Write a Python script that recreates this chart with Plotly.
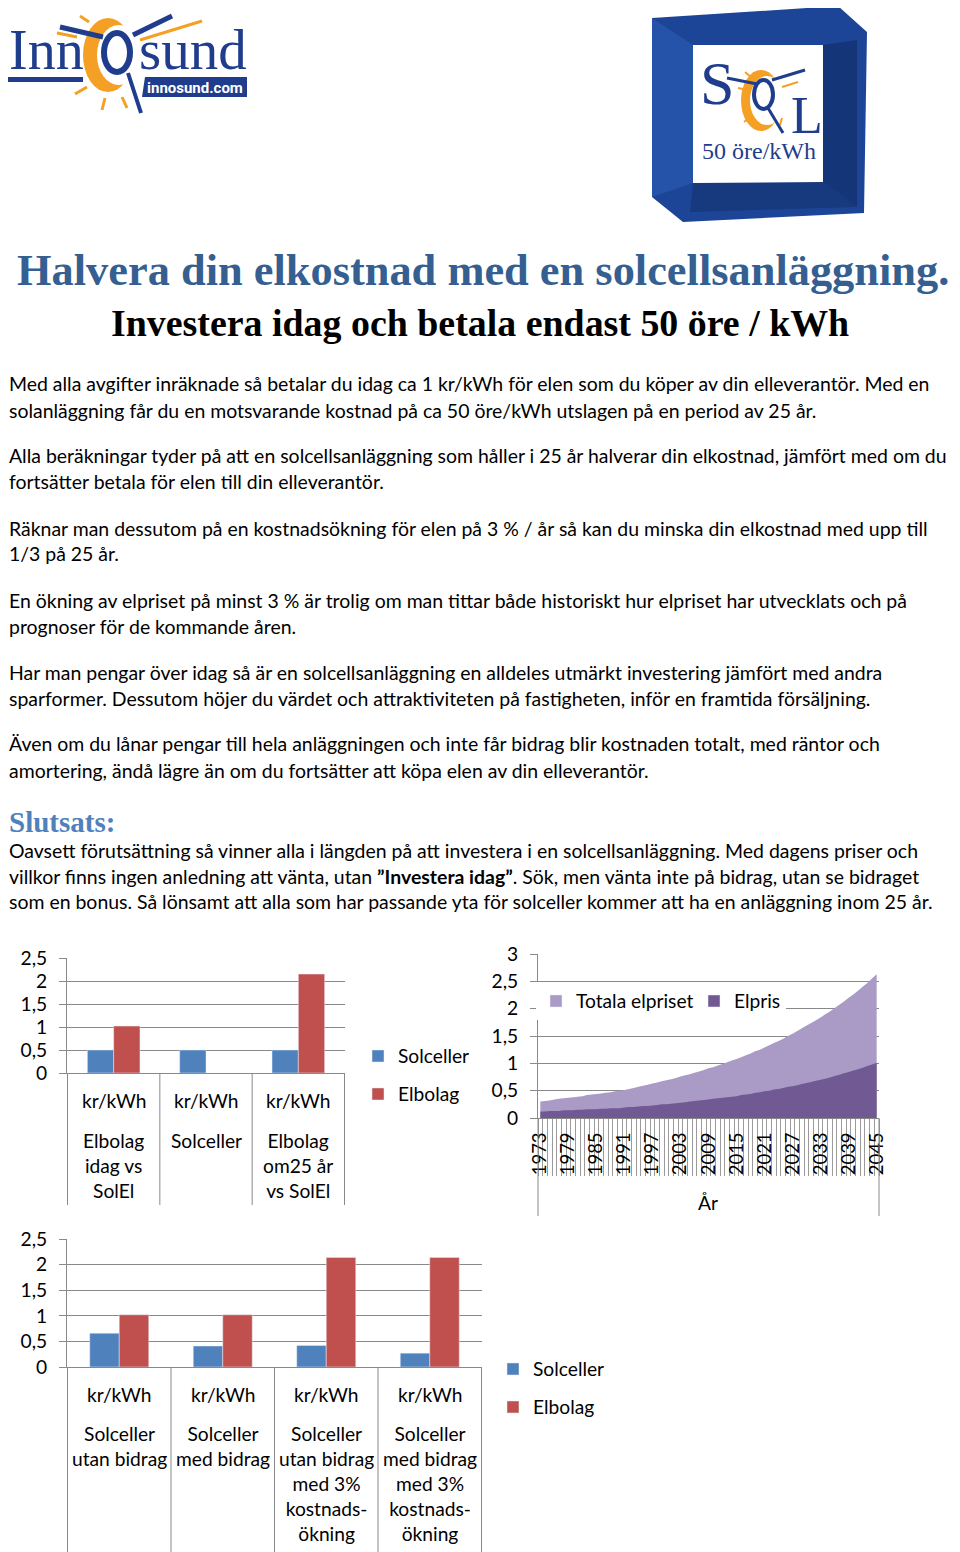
import plotly.graph_objects as go

# The page body has an 8px default margin, so the figure is drawn 8px smaller
# and all reference pixel positions are shifted by that offset.
W, H = 960, 1552
OFF = 8
FW, FH = W - OFF, H - OFF

# ---------------- data ----------------
chart1_categories = ["Elbolag<br>idag vs<br>SolEl", "Solceller", "Elbolag<br>om25 år<br>vs SolEl"]
chart1_unit = ["kr/kWh", "kr/kWh", "kr/kWh"]
chart1_solceller = [0.5, 0.5, 0.5]
chart1_elbolag = [1.02, None, 2.15]

chart3_categories = ["Solceller<br>utan bidrag", "Solceller<br>med bidrag",
                     "Solceller<br>utan bidrag<br>med 3%<br>kostnads-<br>ökning",
                     "Solceller<br>med bidrag<br>med 3%<br>kostnads-<br>ökning"]
chart3_unit = ["kr/kWh", "kr/kWh", "kr/kWh", "kr/kWh"]
chart3_solceller = [0.66, 0.41, 0.42, 0.27]
chart3_elbolag = [1.02, 1.02, 2.14, 2.14]

years = list(range(1973, 2046))
totala_elpriset = [0.30, 0.31, 0.32, 0.34, 0.35, 0.36, 0.37, 0.38, 0.39, 0.40,
                   0.42, 0.43, 0.44, 0.45, 0.46, 0.47, 0.49, 0.50, 0.51, 0.53,
                   0.55, 0.57, 0.59, 0.61, 0.63, 0.65, 0.67, 0.69, 0.71, 0.73,
                   0.76, 0.78, 0.80, 0.83, 0.85, 0.88, 0.91, 0.93, 0.96, 0.99,
                   1.02, 1.05, 1.08, 1.11, 1.15, 1.18, 1.22, 1.25, 1.29, 1.33,
                   1.37, 1.41, 1.45, 1.50, 1.54, 1.59, 1.64, 1.69, 1.74, 1.79,
                   1.84, 1.90, 1.95, 2.01, 2.07, 2.13, 2.20, 2.26, 2.33, 2.40,
                   2.47, 2.55, 2.63]
elpris = [0.12, 0.12, 0.13, 0.13, 0.13, 0.14, 0.14, 0.14, 0.15, 0.15,
          0.16, 0.16, 0.16, 0.17, 0.17, 0.18, 0.18, 0.18, 0.19,
          0.20, 0.20, 0.21, 0.22, 0.22, 0.23, 0.24, 0.25, 0.25, 0.26,
          0.27, 0.28, 0.29, 0.30, 0.31, 0.32, 0.33, 0.34, 0.35, 0.36,
          0.37, 0.38, 0.39, 0.40, 0.42, 0.43, 0.44, 0.46, 0.47, 0.49,
          0.50, 0.52, 0.53, 0.55, 0.57, 0.58, 0.60, 0.62, 0.64, 0.66,
          0.68, 0.70, 0.72, 0.74, 0.77, 0.79, 0.82, 0.84, 0.87, 0.89,
          0.92, 0.95, 0.98, 1.01]
year_ticks = [1973, 1979, 1985, 1991, 1997, 2003, 2009, 2015, 2021, 2027, 2033, 2039, 2045]
value_ticks_25 = [0, 0.5, 1, 1.5, 2, 2.5]
value_ticks_3 = [0, 0.5, 1, 1.5, 2, 2.5, 3]

body_paragraphs = [
    ["Med alla avgifter inräknade så betalar du idag ca 1 kr/kWh för elen som du köper av din elleverantör. Med en",
     "solanläggning får du en motsvarande kostnad på ca 50 öre/kWh utslagen på en period av 25 år."],
    ["Alla beräkningar tyder på att en solcellsanläggning som håller i 25 år halverar din elkostnad, jämfört med om du",
     "fortsätter betala för elen till din elleverantör."],
    ["Räknar man dessutom på en kostnadsökning för elen på 3 % / år så kan du minska din elkostnad med upp till",
     "1/3 på 25 år."],
    ["En ökning av elpriset på minst 3 % är trolig om man tittar både historiskt hur elpriset har utvecklats och på",
     "prognoser för de kommande åren."],
    ["Har man pengar över idag så är en solcellsanläggning en alldeles utmärkt investering jämfört med andra",
     "sparformer. Dessutom höjer du värdet och attraktiviteten på fastigheten, inför en framtida försäljning."],
    ["Även om du lånar pengar till hela anläggningen och inte får bidrag blir kostnaden totalt, med räntor och",
     "amortering, ändå lägre än om du fortsätter att köpa elen av din elleverantör."],
]
slutsats_lines = [
    "Oavsett förutsättning så vinner alla i längden på att investera i en solcellsanläggning. Med dagens priser och",
    "villkor finns ingen anledning att vänta, utan <b>”Investera idag”</b>. Sök, men vänta inte på bidrag, utan se bidraget",
    "som en bonus. Så lönsamt att alla som har passande yta för solceller kommer att ha en anläggning inom 25 år.",
]

# ---------------- style ----------------
BLUE = "#4f81bd"
RED = "#c0504d"
LIGHT_PURPLE = "#a99bc6"
DARK_PURPLE = "#715a94"
GRID = "#898989"
SANS = "Lato"
SERIF = "Liberation Serif"
LOGO_BLUE = "#1f3d8c"
ORANGE = "#f4a024"
TXT = 19.2      # chart text
BODY = 19.45    # body text


def px(x):
    return (x - OFF) / FW


def py(y):
    return 1 - (y - OFF) / FH


fig = go.Figure()

# ---- chart 1 ----
fig.add_trace(go.Bar(x=chart1_categories, y=chart1_solceller, name="Solceller", marker_color=BLUE,
                     xaxis="x", yaxis="y", legend="legend"))
fig.add_trace(go.Bar(x=chart1_categories, y=chart1_elbolag, name="Elbolag", marker_color=RED,
                     xaxis="x", yaxis="y", legend="legend2"))
# ---- chart 2 ----
fig.add_trace(go.Scatter(x=years, y=totala_elpriset, name="Totala elpriset", mode="none", fill="tozeroy",
                         fillcolor=LIGHT_PURPLE, xaxis="x2", yaxis="y2", showlegend=False))
fig.add_trace(go.Scatter(x=years, y=elpris, name="Elpris", mode="none", fill="tozeroy",
                         fillcolor=DARK_PURPLE, xaxis="x2", yaxis="y2", showlegend=False))
fig.add_trace(go.Bar(x=[None], y=[None], name="Totala elpriset", marker_color=LIGHT_PURPLE,
                     xaxis="x2", yaxis="y2", legend="legend3"))
fig.add_trace(go.Bar(x=[None], y=[None], name="Elpris", marker_color=DARK_PURPLE,
                     xaxis="x2", yaxis="y2", legend="legend4"))
# ---- chart 3 ----
fig.add_trace(go.Bar(x=chart3_categories, y=chart3_solceller, name="Solceller", marker_color=BLUE,
                     xaxis="x3", yaxis="y3", legend="legend5"))
fig.add_trace(go.Bar(x=chart3_categories, y=chart3_elbolag, name="Elbolag", marker_color=RED,
                     xaxis="x3", yaxis="y3", legend="legend6"))

tickfont = dict(family=SANS, size=TXT, color="black")


def yax(domain, rng, vals, anchor):
    return dict(domain=domain, range=rng, tickvals=vals, tickmode="array", showgrid=True, gridcolor=GRID,
                gridwidth=1, showline=True, linecolor=GRID, linewidth=1, ticks="outside", ticklen=7,
                tickcolor=GRID, tickfont=tickfont, zeroline=False, anchor=anchor, fixedrange=True,
                ticklabelstandoff=8, automargin=False)


def xcat(domain, anchor):
    return dict(domain=domain, type="category", showline=True, linecolor=GRID, linewidth=1,
                showticklabels=False, ticks="", showgrid=False, anchor=anchor, fixedrange=True,
                automargin=False)


def leg(x, y, bg="rgba(0,0,0,0)"):
    return dict(x=px(x), y=py(y), xanchor="left", yanchor="middle", orientation="v",
                font=dict(family=SANS, size=TXT, color="black"), bgcolor=bg)


annotations = []
shapes = []

c1_x = [67, 345]
c1_y = [958, 1073]
c3_x = [67, 482]
c3_y = [1239, 1367]
c2_x = [538, 879]
c2_y = [954, 1118]

layout = dict(
    width=FW, height=FH, margin=dict(l=0, r=0, t=0, b=0, autoexpand=False),
    paper_bgcolor="white", plot_bgcolor="rgba(0,0,0,0)",
    separators=", ", barmode="group", bargap=0.43, bargroupgap=0,
    font=dict(family=SANS, size=TXT, color="black"),
    xaxis=xcat([px(c1_x[0]), px(c1_x[1])], "y"),
    yaxis=yax([py(c1_y[1]), py(c1_y[0])], [0, 2.5], value_ticks_25, "x"),
    xaxis3=xcat([px(c3_x[0]), px(c3_x[1])], "y3"),
    yaxis3=yax([py(c3_y[1]), py(c3_y[0])], [0, 2.5], value_ticks_25, "x3"),
    xaxis2=dict(domain=[px(c2_x[0]), px(c2_x[1])], range=[years[0] - 0.5, years[-1] + 0.5], anchor="y2",
                tickmode="linear", tick0=year_ticks[0], dtick=year_ticks[1] - year_ticks[0],
                tickangle=-90, ticks="", showline=True, linecolor=GRID, linewidth=1, showgrid=False,
                zeroline=False, tickfont=dict(family=SANS, size=18.5, color="black"), fixedrange=True,
                automargin=False, ticklabelstandoff=6,
                minor=dict(ticks="outside", ticklen=57, tickcolor="#9b9b9b", tickwidth=1,
                           tickmode="linear", tick0=years[0] - 0.5, dtick=1, showgrid=False)),
    yaxis2=yax([py(c2_y[1]), py(c2_y[0])], [0, 3], value_ticks_3, "x2"),
    legend=leg(358, 1056),
    legend2=leg(358, 1094),
    legend3=leg(536, 1001, "white"),
    legend4=leg(694, 1001, "white"),
    legend5=leg(493, 1369),
    legend6=leg(493, 1407),
)


def cat_labels(cats, units, xref, y_unit, y_top, y_bottom_axis, y_sep_end):
    for i, c in enumerate(cats):
        annotations.append(dict(x=c, y=py(y_unit), xref=xref, yref="paper", text=units[i], showarrow=False,
                                xanchor="center", yanchor="middle", font=dict(family=SANS, size=TXT)))
        annotations.append(dict(x=c, y=py(y_top), xref=xref, yref="paper", text=c, showarrow=False,
                                xanchor="center", yanchor="top", borderpad=0,
                                font=dict(family=SANS, size=TXT)))
    for i in range(len(cats) + 1):
        shapes.append(dict(type="line", xref=xref, yref="paper", x0=i - 0.5, x1=i - 0.5,
                           y0=py(y_bottom_axis), y1=py(y_sep_end), line=dict(color=GRID, width=1)))


cat_labels(chart1_categories, chart1_unit, "x", 1100, 1128, c1_y[1], 1205)
cat_labels(chart3_categories, chart3_unit, "x3", 1394, 1421, c3_y[1], 1552)

# chart 2 extra frame lines and axis title
for xx in c2_x:
    shapes.append(dict(type="line", xref="paper", yref="paper", x0=px(xx), x1=px(xx), y0=py(c2_y[1]),
                       y1=py(1216), line=dict(color=GRID, width=1)))
annotations.append(dict(x=px(708), y=py(1202), xref="paper", yref="paper", text="År", showarrow=False,
                        xanchor="center", yanchor="middle", font=dict(family=SANS, size=TXT)))

# ---------------- text ----------------
annotations.append(dict(x=px(483), y=py(270), xref="paper", yref="paper", showarrow=False, xanchor="center",
                        yanchor="middle", text="<b>Halvera din elkostnad med en solcellsanläggning.</b>",
                        borderpad=0, font=dict(family=SERIF, size=44.4, color="#365f91")))
annotations.append(dict(x=px(480), y=py(323), xref="paper", yref="paper", showarrow=False, xanchor="center",
                        yanchor="middle", text="<b>Investera idag och betala endast 50 öre / kWh</b>",
                        font=dict(family=SERIF, size=37.9, color="black")))

LEFT = 8
y0 = 384
for p, para in enumerate(body_paragraphs):
    for l, line in enumerate(para):
        annotations.append(dict(x=px(LEFT), y=py(y0 + p * 72 + l * 26), xref="paper", yref="paper",
                                showarrow=False, xanchor="left", yanchor="middle", text=line, borderpad=0,
                                font=dict(family=SANS, size=BODY, color="black")))
annotations.append(dict(x=px(LEFT), y=py(822), xref="paper", yref="paper", showarrow=False, xanchor="left",
                        yanchor="middle", text="<b>Slutsats:</b>", borderpad=0,
                        font=dict(family=SERIF, size=29, color=BLUE)))
for l, line in enumerate(slutsats_lines):
    annotations.append(dict(x=px(LEFT), y=py(850 + l * 26), xref="paper", yref="paper", showarrow=False,
                            xanchor="left", yanchor="middle", text=line, borderpad=0,
                            font=dict(family=SANS, size=BODY, color="black")))


# ---------------- logos ----------------
def path(pts):
    return "M " + " L ".join(f"{px(a):.5f},{py(b):.5f}" for a, b in pts) + " Z"


def poly(pts, color):
    shapes.append(dict(type="path", xref="paper", yref="paper", path=path(pts), fillcolor=color,
                       line=dict(width=0)))


def ell(x0, y0_, x1, y1, fill=None, line=None, lw=0):
    shapes.append(dict(type="circle", xref="paper", yref="paper", x0=px(x0), x1=px(x1), y0=py(y1),
                       y1=py(y0_), fillcolor=fill if fill else "rgba(0,0,0,0)",
                       line=dict(color=line if line else "rgba(0,0,0,0)", width=lw)))


def seg(x0, y0_, x1, y1, color, w):
    shapes.append(dict(type="line", xref="paper", yref="paper", x0=px(x0), x1=px(x1), y0=py(y0_),
                       y1=py(y1), line=dict(color=color, width=w)))


def txt(x, y, s, size, color, family=SERIF, anchor="center"):
    annotations.append(dict(x=px(x), y=py(y), xref="paper", yref="paper", text=s, showarrow=False,
                            xanchor=anchor, yanchor="middle", borderpad=0,
                            font=dict(family=family, size=size, color=color)))


# InnOsund logo
for a in [(80, 16, 89, 22), (57, 33, 77, 37), (75, 94, 87, 87), (102, 110, 105, 98), (122, 97, 127, 108),
          (140, 40, 202, 21)]:
    seg(*a, ORANGE, 3)
ell(83, 18, 133, 92, fill=ORANGE)
ell(97, 25, 141, 85, fill="white")
ell(104, 33, 130, 72, line=LOGO_BLUE, lw=6)
seg(60, 27, 103, 37, LOGO_BLUE, 5)
seg(133, 35, 172, 16, LOGO_BLUE, 5)
seg(128, 73, 141, 113, LOGO_BLUE, 4)
poly([(8, 77), (83, 77), (83, 82), (8, 82)], LOGO_BLUE)
poly([(145, 77), (247, 77), (247, 97), (142, 97)], LOGO_BLUE)
txt(8, 50, "Inn", 56, LOGO_BLUE, anchor="left")
txt(138, 50, "sund", 57, LOGO_BLUE, anchor="left")
txt(195, 88, "<b>innosund.com</b>", 15, "white", family="Roboto")

# SOL box logo
poly([(652, 18), (838, 6), (867, 32), (864, 213), (683, 222), (652, 197)], "#1d4597")
poly([(652, 18), (693, 45), (693, 183), (652, 197)], "#2553aa")
poly([(823, 45), (857, 40), (857, 207), (823, 182)], "#143678")
poly([(693, 183), (823, 182), (857, 207), (690, 212)], "#17397e")
poly([(693, 45), (823, 45), (823, 182), (693, 183)], "white")
for a in [(745, 72, 752, 78), (738, 88, 748, 90), (744, 122, 752, 116), (762, 130, 764, 121),
          (780, 125, 782, 118), (782, 87, 798, 82)]:
    seg(*a, ORANGE, 2)
ell(741, 70, 781, 131, fill=ORANGE)
ell(750, 76, 784, 125, fill="white")
ell(754, 80, 773, 109, line=LOGO_BLUE, lw=4)
seg(727, 78, 757, 84, LOGO_BLUE, 3)
seg(772, 80, 805, 70, LOGO_BLUE, 3)
seg(768, 108, 783, 133, LOGO_BLUE, 3)
txt(717, 83, "S", 62, LOGO_BLUE)
txt(807, 115, "L", 52, LOGO_BLUE)
txt(759, 151, "50 öre/kWh", 24, LOGO_BLUE)

layout["annotations"] = annotations
layout["shapes"] = shapes
fig.update_layout(**layout)
fig.write_html("out.html")
